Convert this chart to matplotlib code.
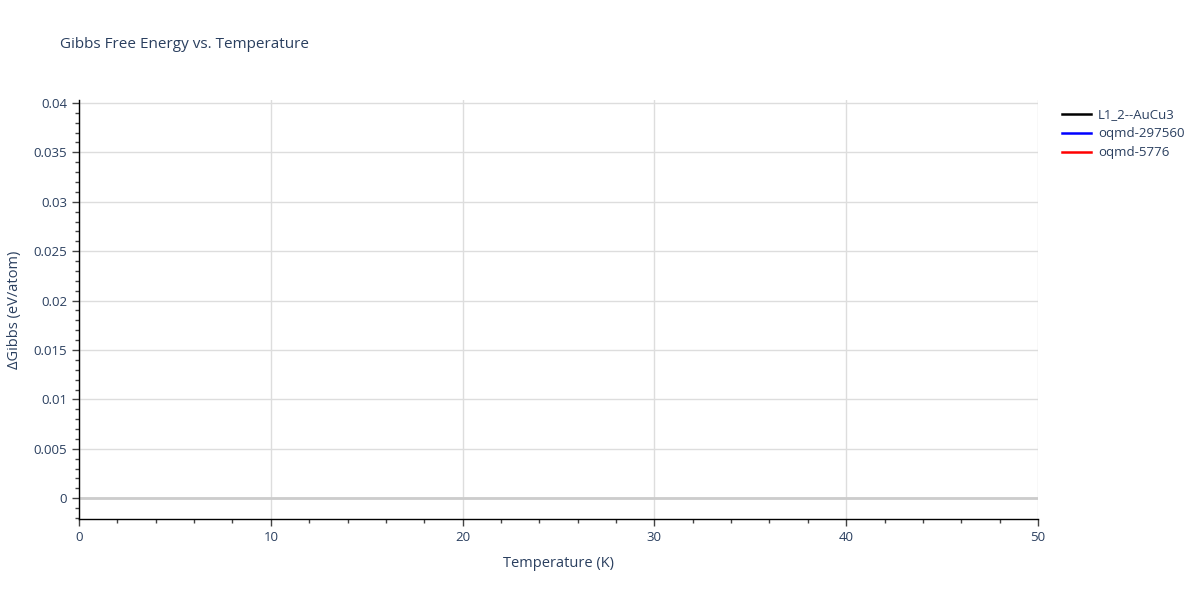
import numpy as np
import matplotlib.pyplot as plt
from matplotlib.ticker import MultipleLocator
from matplotlib.lines import Line2D

# series (no points fall inside the shown range)
names = ['L1_2--AuCu3', 'oqmd-297560', 'oqmd-5776']
colors = ['black', 'blue', 'red']
temps = [[], [], []]
gibbs = [[], [], []]

txt = '#2a3f5f'
plt.rcParams['font.family'] = ['Open Sans', 'DejaVu Sans']

fig = plt.figure(figsize=(12, 6), dpi=100)
ax = fig.add_axes([79 / 1200, 1 - 519 / 600, (1038 - 79) / 1200, (519 - 100) / 600])

for t, g, c, n in zip(temps, gibbs, colors, names):
    ax.plot(t, g, color=c, lw=2, label=n)

ax.set_xlim(0, 50)
ax.set_ylim(-0.0021, 0.0403)
ax.xaxis.set_major_locator(MultipleLocator(10))
ax.xaxis.set_minor_locator(MultipleLocator(2))
ax.yaxis.set_major_locator(MultipleLocator(0.005))
ax.yaxis.set_minor_locator(MultipleLocator(0.001))
ax.yaxis.set_major_formatter(plt.FuncFormatter(lambda v, p: ('%g' % round(v, 4))))

ax.grid(True, which='major', color='#dddddd', lw=1)
ax.axhline(0, color='#cccccc', lw=2, zorder=1)
ax.set_axisbelow(True)
for s in ['top', 'right']:
    ax.spines[s].set_visible(False)
for s in ['left', 'bottom']:
    ax.spines[s].set_color('black')
    ax.spines[s].set_linewidth(1)

ax.tick_params(which='major', direction='out', length=5, width=1, color='#444444',
               labelsize=9.5, labelcolor=txt)
ax.tick_params(which='minor', direction='out', length=3, width=1, color='#444444')
ax.set_xlabel('Temperature (K)', fontsize=10.5, color=txt, labelpad=9)
ax.set_ylabel('ΔGibbs (eV/atom)', fontsize=10.5, color=txt, labelpad=8)

fig.text(60 / 1200, 1 - 45 / 600, 'Gibbs Free Energy vs. Temperature', fontsize=11,
         color=txt, va='center')

handles = [Line2D([], [], color=c, lw=1.8) for c in colors]
leg = fig.legend(handles, names, loc='upper left', bbox_to_anchor=(1057 / 1200, 1 - 103 / 600),
                 frameon=False, fontsize=9.5, handlelength=2.2, labelspacing=0.45,
                 borderaxespad=0, handletextpad=0.5)
for t in leg.get_texts():
    t.set_color(txt)

fig.savefig('out.png', dpi=100)
